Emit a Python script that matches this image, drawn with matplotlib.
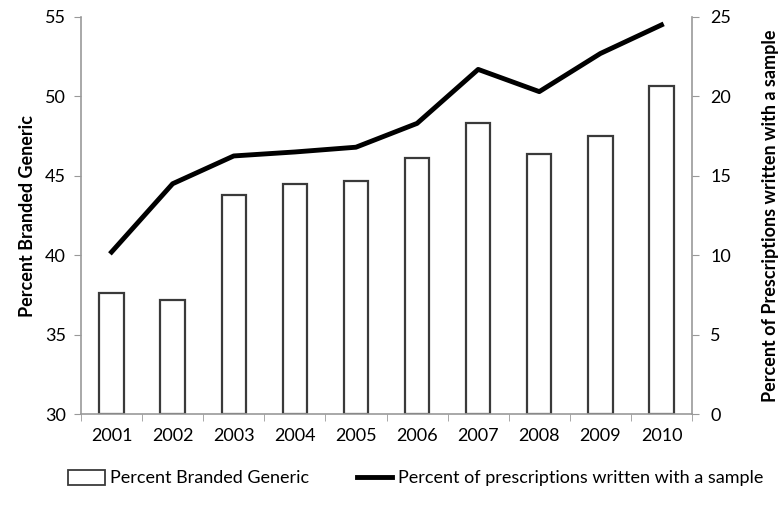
import numpy as np
import matplotlib
matplotlib.use("Agg")
import matplotlib.pyplot as plt
from matplotlib.patches import Patch
from matplotlib.lines import Line2D

plt.rcParams['font.family'] = ['Lato', 'DejaVu Sans']

years = ['2001', '2002', '2003', '2004', '2005', '2006', '2007', '2008', '2009', '2010']
branded_generic = [37.6, 37.2, 43.8, 44.5, 44.7, 46.1, 48.3, 46.4, 47.5, 50.65]
written_with_sample = [10.2, 14.5, 16.25, 16.5, 16.8, 18.3, 21.7, 20.3, 22.7, 24.5]

fig = plt.figure(figsize=(7.78, 5.07), dpi=100)
ax1 = fig.add_axes([0.1041, 0.1834, 0.7854, 0.7831])
ax2 = ax1.twinx()

x = np.arange(len(years))
ax1.bar(x, [v - 30 for v in branded_generic], bottom=30, width=0.4,
        facecolor='white', edgecolor='#3a3a3a', linewidth=1.6, zorder=2)
ax2.plot(x, written_with_sample, color='black', linewidth=3.5, zorder=3)

ax1.set_xlim(-0.5, len(years) - 0.5)
ax1.set_ylim(30, 55)
ax2.set_ylim(0, 25)
ax1.set_yticks(range(30, 56, 5))
ax2.set_yticks(range(0, 26, 5))
ax1.set_xticks(x)
ax1.set_xticklabels(years)
ax1.set_xticks(np.arange(-0.5, len(years), 1), minor=True)
ax1.tick_params(axis='x', which='major', length=0, pad=10, labelsize=13)
ax1.tick_params(axis='x', which='minor', length=5, color='#999999', direction='out')
ax1.tick_params(axis='y', length=5, color='#999999', labelsize=13, pad=6)
ax2.tick_params(axis='y', length=5, color='#999999', labelsize=13, pad=8)

for a in (ax1, ax2):
    for s in a.spines.values():
        s.set_visible(False)
ax1.spines['left'].set_visible(True)
ax1.spines['bottom'].set_visible(True)
ax2.spines['right'].set_visible(True)
for s in (ax1.spines['left'], ax1.spines['bottom'], ax2.spines['right']):
    s.set_color('#999999')
    s.set_linewidth(1.2)

ax1.set_ylabel('Percent Branded Generic', fontsize=13, fontweight='bold', labelpad=6)
ax2.set_ylabel('Percent of Prescriptions written with a sample', fontsize=13,
               fontweight='bold', labelpad=22)

# two separate legend entries, placed like the original
fig.legend([Patch(facecolor='white', edgecolor='#3a3a3a', linewidth=1.3)],
           ['Percent Branded Generic'], loc='center left',
           bbox_to_anchor=(68 / 778, 0.057), frameon=False, fontsize=13,
           borderpad=0, borderaxespad=0, handlelength=2.05, handleheight=0.9,
           handletextpad=0.25)
fig.legend([Line2D([0], [0], color='black', linewidth=3.5)],
           ['Percent of prescriptions written with a sample'], loc='center left',
           bbox_to_anchor=(357 / 778, 0.057), frameon=False, fontsize=13,
           borderpad=0, borderaxespad=0, handlelength=1.95, handletextpad=0.3)

fig.savefig('out.png', dpi=100)
